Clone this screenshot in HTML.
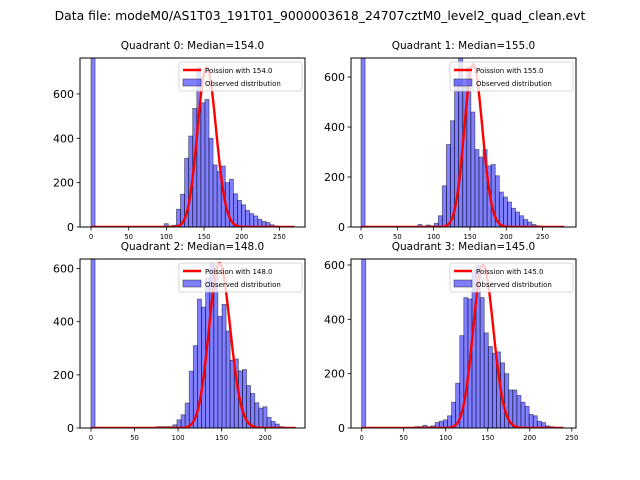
<!DOCTYPE html>
<html><head><meta charset="utf-8"><style>
body{margin:0;background:#fff;}
svg{font-family:"DejaVu Sans","Liberation Sans",sans-serif;display:block}
</style></head><body>
<svg id="fig" width="640" height="480" viewBox="0 0 640 480">
<rect width="640" height="480" fill="#fff"/>
<text x="320" y="20" text-anchor="middle" font-size="12.4">Data file: modeM0/AS1T03_191T01_9000003618_24707cztM0_level2_quad_clean.evt</text>
</svg>
<script>
// ---- data ----
const medians = [154.0, 155.0, 148.0, 145.0];
const binWidths = [5.4, 5.6, 4.7, 4.86];
const firstBins = [18, 14, 16, 13];
const zeroCounts = [2000, 2000, 2000, 2000];
const q0Counts = [15,5,8,80,148,310,410,535,720,560,575,400,280,250,275,200,215,150,120,100,75,60,50,35,25,20,10,5];
const q1Counts = [10,0,8,5,15,45,165,330,425,590,680,560,640,460,310,280,310,245,250,205,140,120,100,75,60,45,30,20,10,5];
const q2Counts = [5,5,5,5,12,31,50,94,214,310,485,455,565,620,600,420,465,365,255,260,215,220,160,130,95,75,80,40,25,15,5];
const q3Counts = [5,5,10,5,8,20,25,30,45,95,165,340,480,475,580,600,480,350,300,275,280,240,200,140,140,120,95,80,50,45,25,20,8,5,3];
const allCounts = [q0Counts, q1Counts, q2Counts, q3Counts];
const poissonPeaks = [720, 650, 620, 600];
const curveMax = [270, 280, 235, 240];
const xTicks = [[0,50,100,150,200,250],[0,50,100,150,200,250],[0,50,100,150,200],[0,50,100,150,200,250]];
const yTicks = [0,200,400,600];
// ---- layout ----
const boxes = [{l:80,r:305,t:58,b:227,xmin:-14.6,xmax:284,ymax:762},
               {l:351,r:576,t:58,b:227,xmin:-13.8,xmax:296,ymax:676},
               {l:80,r:305,t:259,b:428,xmin:-12.6,xmax:245.7,ymax:636},
               {l:351,r:576,t:259,b:428,xmin:-12.7,xmax:255,ymax:622}];
const NS="http://www.w3.org/2000/svg";
const svg=document.getElementById('fig');
function mk(tag,attrs,parent){const e=document.createElementNS(NS,tag);for(const k in attrs)e.setAttribute(k,attrs[k]);(parent||svg).appendChild(e);return e;}
function lgamma(n){let s=0;for(let i=2;i<=n;i++)s+=Math.log(i);return s;}
boxes.forEach((B,p)=>{
  const g=mk('g',{});
  
  
  const X=v=>B.l+(v-B.xmin)/(B.xmax-B.xmin)*(B.r-B.l);
  const Y=v=>B.b-v/B.ymax*(B.b-B.t);
  const clipId='c'+p;
  const cp=mk('clipPath',{id:clipId},g);mk('rect',{x:B.l,y:B.t,width:B.r-B.l,height:B.b-B.t},cp);
  const plot=mk('g',{'clip-path':'url(#'+clipId+')'},g);
  const w=binWidths[p];
  const z=mk('rect',{x:X(0),y:Y(zeroCounts[p]),width:X(w)-X(0),height:Y(0)-Y(zeroCounts[p]),fill:'#0000ff','fill-opacity':0.5,stroke:'#000','stroke-opacity':0.5,'stroke-width':0.8},plot);
  
  
  allCounts[p].forEach((c,i)=>{
    if(c<=0)return;
    const x0=(firstBins[p]+i)*w;
    const r=mk('rect',{x:X(x0),y:Y(c),width:X(x0+w)-X(x0),height:Y(0)-Y(c),fill:'#0000ff','fill-opacity':0.5,stroke:'#000','stroke-opacity':0.5,'stroke-width':0.8},plot);
    
    
  });
  const lam=medians[p];const peakPmf=Math.exp(Math.floor(lam)*Math.log(lam)-lam-lgamma(Math.floor(lam)));
  let d='';
  for(let k=0;k<=curveMax[p];k++){const pm=Math.exp(k*Math.log(Math.max(lam,1e-9))-lam-lgamma(k));const v=pm/peakPmf*poissonPeaks[p];d+=(k?'L':'M')+X(k).toFixed(2)+','+Y(v).toFixed(2);}
  const pl=mk('path',{d:d,fill:'none',stroke:'#ff0000','stroke-width':2.4},plot);
  
  
  const fr=mk('rect',{x:B.l,y:B.t,width:B.r-B.l,height:B.b-B.t,fill:'none',stroke:'#000','stroke-width':1},g);
  
  
  xTicks[p].forEach(t=>{
    mk('line',{x1:X(t),x2:X(t),y1:B.b,y2:B.b+3.5,stroke:'#000','stroke-width':0.8},g);
    const tx=mk('text',{x:X(t),y:B.b+12,'text-anchor':'middle','font-size':6.8},g);tx.textContent=t;
    
    
  });
  yTicks.forEach(t=>{
    if(t>B.ymax)return;
    mk('line',{x1:B.l-3.5,x2:B.l,y1:Y(t),y2:Y(t),stroke:'#000','stroke-width':0.8},g);
    const ty=mk('text',{x:B.l-6,y:Y(t)+4,'text-anchor':'end','font-size':11},g);ty.textContent=t;
    
    
  });
  const tt=mk('text',{x:(B.l+B.r)/2,y:B.t-9,'text-anchor':'middle','font-size':10.5},g);
  tt.textContent='Quadrant '+p+': Median='+medians[p].toFixed(1);
  
  
  const lg=mk('g',{},g);
  
  
  const lx=B.r-126,ly=B.t+4;
  mk('rect',{x:lx,y:ly,width:123,height:29,fill:'#fff','fill-opacity':0.8,stroke:'#ccc','stroke-width':0.8,rx:2},lg);
  mk('line',{x1:lx+4,x2:lx+22,y1:ly+8,y2:ly+8,stroke:'#ff0000','stroke-width':2.4},lg);
  const l1=mk('text',{x:lx+26,y:ly+11,'font-size':7},lg);l1.textContent='Poission with '+medians[p].toFixed(1);
  mk('rect',{x:lx+4,y:ly+17,width:18,height:7,fill:'#0000ff','fill-opacity':0.5,stroke:'#000','stroke-opacity':0.5,'stroke-width':0.8},lg);
  const l2=mk('text',{x:lx+26,y:ly+24,'font-size':7},lg);l2.textContent='Observed distribution';
});
</script>
</body></html>
